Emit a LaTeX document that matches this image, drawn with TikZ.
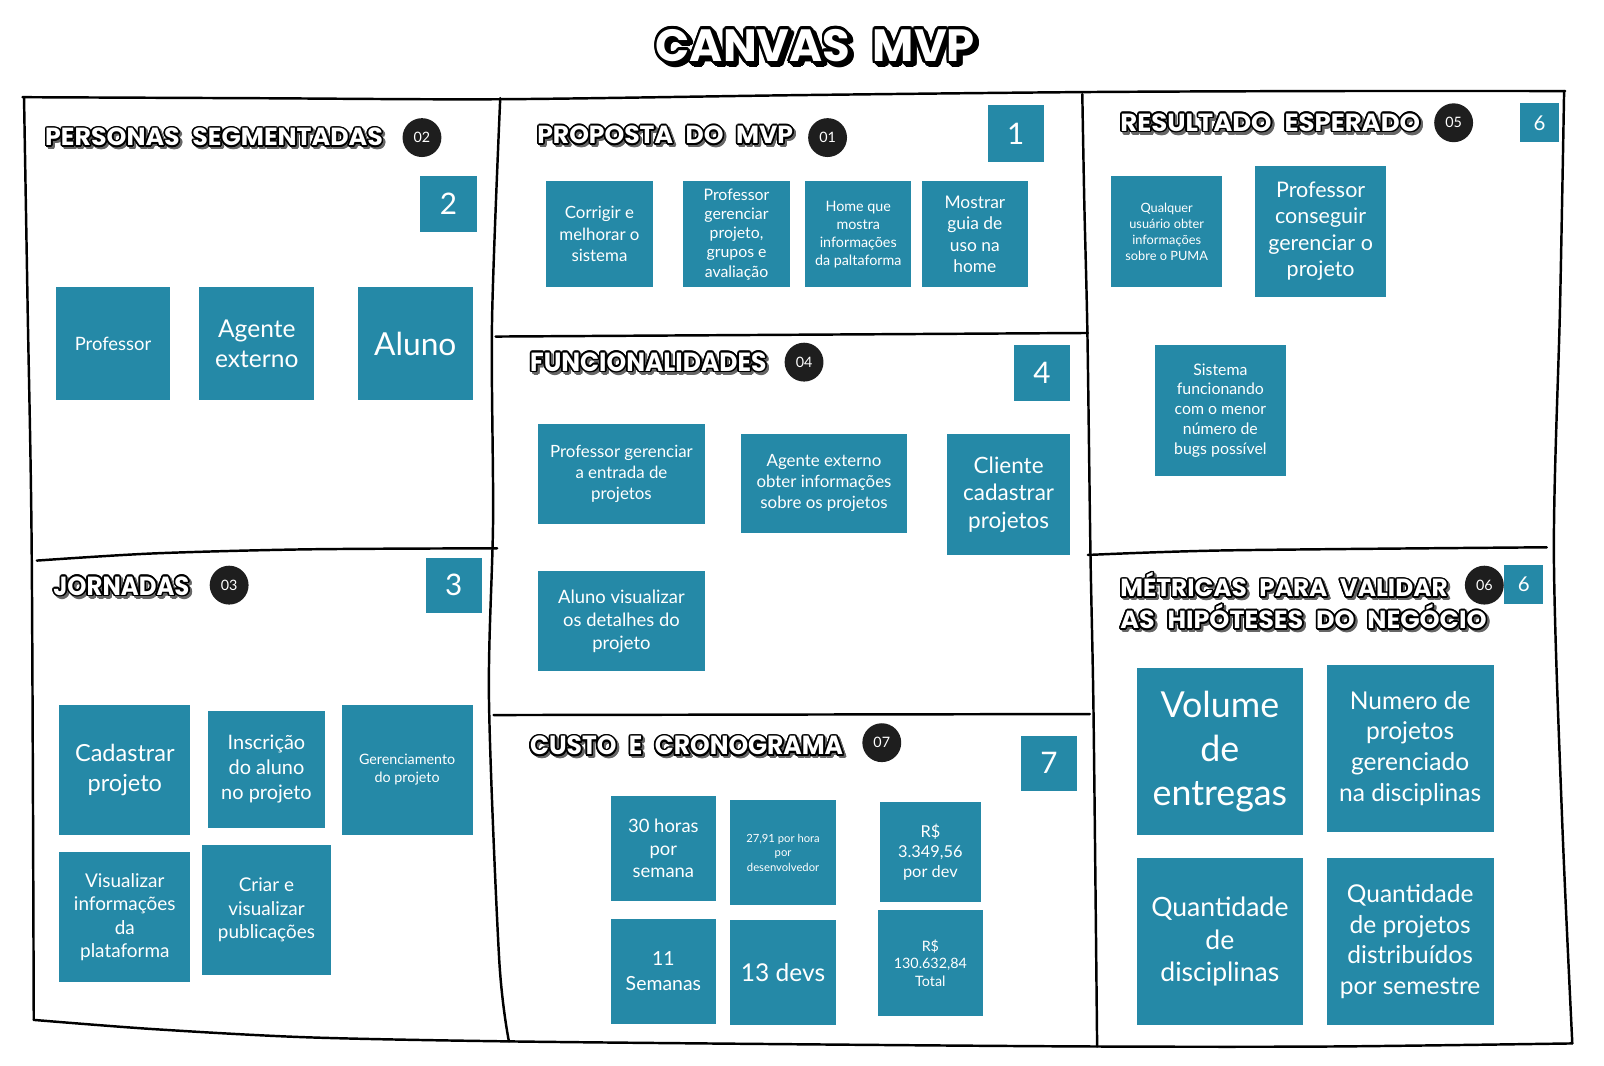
\documentclass[tikz,border=0pt]{standalone}
\usepackage{fontspec}
\usepackage{graphicx}
\setmainfont{Lato}
\newfontfamily\hfont{Poppins}
\definecolor{teal1}{RGB}{37,137,167}
\definecolor{circfill}{RGB}{30,30,30}
\newcommand\fs[2]{\fontsize{#1}{#2}\selectfont}
\newlength\olx \newlength\oly
\newcommand\olcopy[3]{\makebox[0pt][l]{\hspace*{#1}\raisebox{#2}{#3}}}
% #1 outline radius, #2 shadow offset, #3 shadow colour, #4 content
\newcommand\outlined[4]{%
  \foreach \a in {0,30,...,330}{%
    \pgfmathsetlength\olx{#2+#1*cos(\a)}%
    \pgfmathsetlength\oly{-#2+#1*sin(\a)}%
    \olcopy{\olx}{\oly}{\color{#3}#4}}%
  \foreach \a in {0,22.5,...,337.5}{%
    \pgfmathsetlength\olx{#1*cos(\a)}%
    \pgfmathsetlength\oly{#1*sin(\a)}%
    \olcopy{\olx}{\oly}{\color{black}#4}}%
  {\color{white}#4}}
\newcommand\hdr[3]{\resizebox{#1pt}{#2pt}{\hfont\bfseries\fontsize{20}{20}\selectfont\spaceskip=0.5em\relax\smash{#3}\vphantom{A}}}
\newcommand\header[3]{\outlined{1.6}{2.2}{black!60}{\hdr{#1}{#2}{#3}}}
\tikzset{
  frame/.style={line width=2.4pt, black, line cap=round, line join=round},
  sticky/.style={fill=teal1, text=white, inner sep=2pt, align=center},
  numbox/.style={fill=teal1, text=white, inner sep=0pt, font=\fs{29}{30}},
  smallnum/.style={fill=teal1, text=white, inner sep=0pt, minimum size=38, font=\fs{20}{22}},
  circ/.style={circle, fill=circfill, text=white, minimum size=38, inner sep=0pt, font=\fs{14}{16}},
  hdrnode/.style={anchor=west, inner sep=0pt}
}
\begin{document}
\begin{tikzpicture}[x=1pt,y=-1pt]
\useasboundingbox (0,0) rectangle (1568,1042);
\fill[white] (0,0) rectangle (1568,1042);

% ---------- frame ----------
\draw[frame] plot[smooth] coordinates {(22,95) (250,96) (489,97) (780,93) (1060,90) (1300,89) (1530,89)};
\draw[frame] plot[smooth] coordinates {(23.5,96) (27,300) (31,540) (33,997)};
\draw[frame] plot[smooth] coordinates {(33,997) (150,1006) (300,1014) (497,1018) (800,1021) (1072,1023) (1300,1023) (1537,1020)};
\draw[frame] plot[smooth] coordinates {(1529,89) (1525,300) (1519,540) (1527,800) (1537,1020)};
\draw[frame] plot[smooth] coordinates {(489,96) (481,313) (482,508) (478,684) (488,938) (497.5,1018)};
\draw[frame] plot[smooth] coordinates {(1058,92) (1060,200) (1063,326) (1066,542) (1069,699) (1072.5,1023)};
\draw[frame] plot[smooth] coordinates {(36,548) (150,541) (300,537) (486,536)};
\draw[frame] (484.5,329) -- (1063.5,325.5);
\draw[frame] (482.5,699) -- (1065.5,698);
\draw[frame] plot[smooth] coordinates {(1063.5,542.5) (1200,538) (1512,535)};

% ---------- title ----------
\node[inner sep=0pt] (title) at (797,46) {\outlined{2.6}{3}{black}{\hdr{312}{31}{CANVAS MVP}}};

% ---------- headers ----------
\node[hdrnode] (hPers) at (44,135) {\header{330}{17}{PERSONAS SEGMENTADAS}};
\node[hdrnode] (hProp) at (525,133) {\header{250}{17}{PROPOSTA DO MVP}};
\node[hdrnode] (hFunc) at (518,355) {\header{231}{18}{FUNCIONALIDADES}};
\node[hdrnode] (hJorn) at (52,574) {\header{133}{18}{JORNADAS}};
\node[hdrnode] (hCust) at (518,730) {\header{306}{18}{CUSTO E CRONOGRAMA}};
\node[hdrnode] (hRes) at (1095,121) {\header{293}{17}{RESULTADO ESPERADO}};
\node[hdrnode] (hMet1) at (1095,576) {\header{320}{17}{MÉTRICAS PARA VALIDAR}};
\node[hdrnode] (hMet2) at (1095,607) {\header{358}{17}{AS HIPÓTESES DO NEGÓCIO}};

% ---------- circles ----------
\node[circ] (c02) at (412.5,134.5) {02};
\node[circ] (c01) at (809,134.5) {01};
\node[circ] (c04) at (786,354) {04};
\node[circ] (c03) at (224,572) {03};
\node[circ] (c07) at (862,726) {07};
\node[circ] (c05) at (1421,120) {05};
\node[circ] (c06) at (1451,572) {06};

% ---------- number boxes ----------
\node[numbox, minimum width=55, minimum height=55] (n2) at (438.5,199.5) {2};
\node[numbox, minimum width=55, minimum height=54] (n3) at (443.5,572) {3};
\node[numbox, minimum width=55, minimum height=55] (n1) at (993,130.5) {1};
\node[numbox, minimum width=55, minimum height=55] (n4) at (1018.5,364.5) {4};
\node[numbox, minimum width=55, minimum height=54] (n7) at (1025.5,746) {7};
\node[smallnum] (n6a) at (1505,120) {6};
\node[smallnum] (n6b) at (1489.5,571.5) {6};

% ---------- personas ----------
\node[sticky, minimum width=111, minimum height=110, font=\fs{18}{22}] (pProf) at (110.5,336) {Professor};
\node[sticky, minimum width=112, minimum height=110, font=\fs{24}{30}] (pAg) at (251,336) {Agente\\externo};
\node[sticky, minimum width=112, minimum height=110, font=\fs{31}{34}] (pAl) at (406,336) {Aluno};

% ---------- jornadas ----------
\node[sticky, minimum width=128, minimum height=127, font=\fs{23}{29}] (jCad) at (122,752.5) {Cadastrar\\projeto};
\node[sticky, minimum width=115, minimum height=114, font=\fs{19.5}{24.5}] (jIns) at (260.5,752) {Inscrição\\do aluno\\no projeto};
\node[sticky, minimum width=128, minimum height=127, font=\fs{14}{18}] (jGer) at (398,752.5) {Gerenciamento\\do projeto};
\node[sticky, minimum width=128, minimum height=127, font=\fs{18.5}{23}] (jVis) at (122,896.5) {Visualizar\\informações\\da\\plataforma};
\node[sticky, minimum width=127, minimum height=127, font=\fs{18.5}{23}] (jCri) at (260.5,889.5) {Criar e\\visualizar\\publicações};

% ---------- proposta ----------
\node[sticky, minimum width=104, minimum height=104, font=\fs{16.5}{21}] (s1) at (586,229) {Corrigir e\\melhorar o\\sistema};
\node[sticky, minimum width=104, minimum height=104, font=\fs{15.5}{18.8}] (s2) at (720,229) {Professor\\gerenciar\\projeto,\\grupos e\\avaliação};
\node[sticky, minimum width=104, minimum height=104, font=\fs{14}{17.5}] (s3) at (839,229) {Home que\\mostra\\informações\\da paltaforma};
\node[sticky, minimum width=104, minimum height=104, font=\fs{17}{21}] (s4) at (953,229) {Mostrar\\guia de\\uso na\\home};

% ---------- funcionalidades ----------
\node[sticky, minimum width=163, minimum height=98, font=\fs{16.5}{20.5}] (f1) at (607.5,463) {Professor gerenciar\\a entrada de\\projetos};
\node[sticky, minimum width=163, minimum height=97, font=\fs{16.5}{20.5}] (f2) at (805.5,472.5) {Agente externo\\obter informações\\sobre os projetos};
\node[sticky, minimum width=120, minimum height=119, font=\fs{22}{27}] (f3) at (986,483.5) {Cliente\\cadastrar\\projetos};
\node[sticky, minimum width=163, minimum height=98, font=\fs{18}{22.5}] (f4) at (607.5,607) {Aluno visualizar\\os detalhes do\\projeto};

% ---------- custo ----------
\node[sticky, minimum width=103, minimum height=103, font=\fs{18}{22}] (k1) at (648.5,829.5) {30 horas\\por\\semana};
\node[sticky, minimum width=103, minimum height=103, font=\fs{11}{14}] (k2) at (765.5,833.5) {27,91 por hora\\por\\desenvolvedor};
\node[sticky, minimum width=99, minimum height=98, font=\fs{16}{19.5}] (k3) at (909.5,833) {R\$\\3.349,56\\por dev};
\node[sticky, minimum width=103, minimum height=103, font=\fs{19}{24}] (k4) at (648.5,949.5) {11\\Semanas};
\node[sticky, minimum width=103, minimum height=103, font=\fs{24}{28}] (k5) at (765.5,950.5) {13 devs};
\node[sticky, minimum width=103, minimum height=103, font=\fs{14}{17.5}] (k6) at (909.5,941.5) {R\$\\130.632,84\\Total};

% ---------- resultado ----------
\node[sticky, minimum width=109, minimum height=109, font=\fs{12.5}{15.6}] (r1) at (1140.5,226.5) {Qualquer\\usuário obter\\informações\\sobre o PUMA};
\node[sticky, minimum width=128, minimum height=128, font=\fs{21}{25.7}] (r2) at (1291,226) {Professor\\conseguir\\gerenciar o\\projeto};
\node[sticky, minimum width=128, minimum height=128, font=\fs{15.5}{19.3}] (r3) at (1193,401) {Sistema\\funcionando\\com o menor\\número de\\bugs possível};

% ---------- metricas ----------
\node[sticky, minimum width=163, minimum height=163, font=\fs{35}{43}] (m1) at (1192.5,734.5) {Volume\\de\\entregas};
\node[sticky, minimum width=163, minimum height=163, font=\fs{24}{30}] (m2) at (1378.5,731.5) {Numero de\\projetos\\gerenciado\\na disciplinas};
\node[sticky, minimum width=163, minimum height=163, font=\fs{26}{32}] (m3) at (1192.5,920.5) {Quantidade\\de\\disciplinas};
\node[sticky, minimum width=163, minimum height=163, font=\fs{24}{30}] (m4) at (1378.5,920.5) {Quantidade\\de projetos\\distribuídos\\por semestre};
\end{tikzpicture}
\end{document}
